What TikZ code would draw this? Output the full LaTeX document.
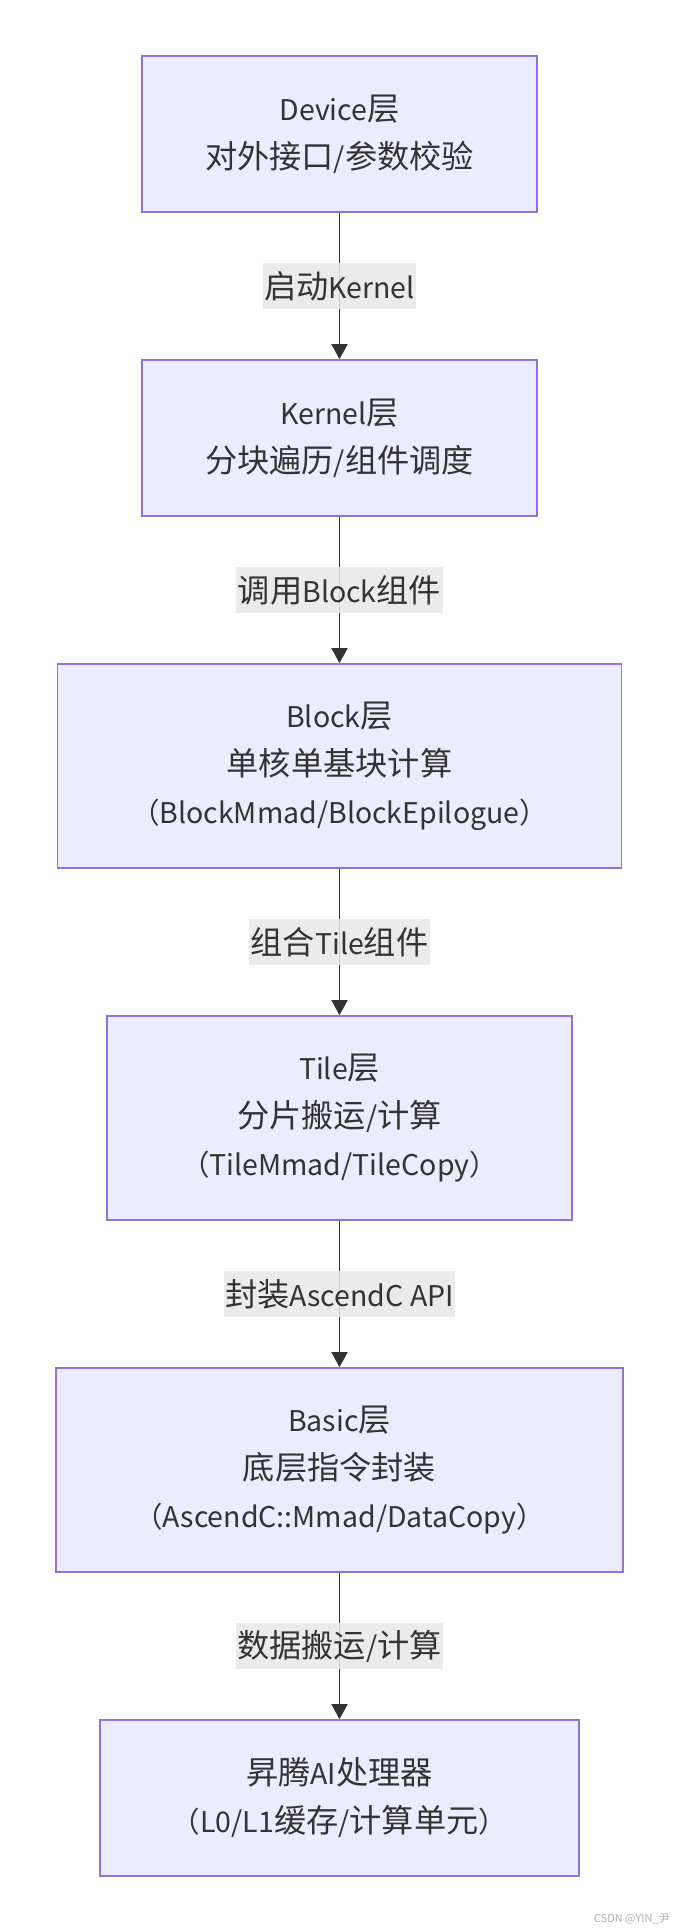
\documentclass[tikz,border=0pt]{standalone}
\usepackage{fontspec}
\newfontfamily\cjk{Noto Sans CJK SC}
\newfontfamily\cjkbig[Scale=1.13]{Noto Sans CJK SC}
\newcommand\zh[1]{{\cjkbig #1}}
\usetikzlibrary{arrows.meta}
\definecolor{boxfill}{HTML}{ECECFF}
\definecolor{boxdraw}{HTML}{9370DB}
\definecolor{ink}{HTML}{333333}
\definecolor{lblfill}{HTML}{E8E8E8}
\tikzset{
  layer/.style={draw=boxdraw, fill=boxfill, line width=1.6pt, text=ink,
    align=center, inner sep=0pt, font=\cjk\fontsize{28.5}{48}\selectfont},
  flow/.style={draw=ink, line width=1.5pt, -{Triangle[length=15pt,width=16pt]}},
  lbl/.style={fill=lblfill, fill opacity=0.85, text opacity=1, text=ink,
    inner xsep=1.5pt, inner ysep=0pt, minimum height=46pt,
    font=\cjk\fontsize{28.5}{34}\selectfont},
  wmark/.style={text=gray!60, font=\cjk\fontsize{11}{13}\selectfont, inner sep=0pt}
}
\begin{document}
\begin{tikzpicture}[x=1pt,y=-1pt]
\useasboundingbox (0,0) rectangle (675,1932);
\fill[white] (0,0) rectangle (675,1932);
\node[layer, minimum width=395pt, minimum height=156pt] (dev) at (339.5,134) {Device\zh{层}\\\zh{对外接口}/\zh{参数校验}};
\node[layer, minimum width=395pt, minimum height=156pt] (ker) at (339.5,438) {Kernel\zh{层}\\\zh{分块遍历}/\zh{组件调度}};
\node[layer, minimum width=564pt, minimum height=204pt] (blk) at (339.5,766) {Block\zh{层}\\\zh{单核单基块计算}\\（BlockMmad/BlockEpilogue）};
\node[layer, minimum width=465pt, minimum height=204pt] (til) at (339.5,1118) {Tile\zh{层}\\\zh{分片搬运}/\zh{计算}\\（TileMmad/TileCopy）};
\node[layer, minimum width=567pt, minimum height=204pt] (bas) at (339.5,1470) {Basic\zh{层}\\\zh{底层指令封装}\\（AscendC::Mmad/DataCopy）};
\node[layer, minimum width=479pt, minimum height=156pt] (npu) at (339.5,1798) {\zh{昇腾}AI\zh{处理器}\\（L0/L1\zh{缓存}/\zh{计算单元}）};
\draw[flow] (dev) -- (ker) node[lbl, midway] (l1) {\zh{启动}Kernel};
\draw[flow] (ker) -- (blk) node[lbl, midway] (l2) {\zh{调用}Block\zh{组件}};
\draw[flow] (blk) -- (til) node[lbl, midway] (l3) {\zh{组合}Tile\zh{组件}};
\draw[flow] (til) -- (bas) node[lbl, midway] (l4) {\zh{封装}AscendC API};
\draw[flow] (bas) -- (npu) node[lbl, midway] (l5) {\zh{数据搬运}/\zh{计算}};
\node[wmark, anchor=east] (wm) at (670,1919) {CSDN @YIN\_尹};
\end{tikzpicture}
\end{document}
